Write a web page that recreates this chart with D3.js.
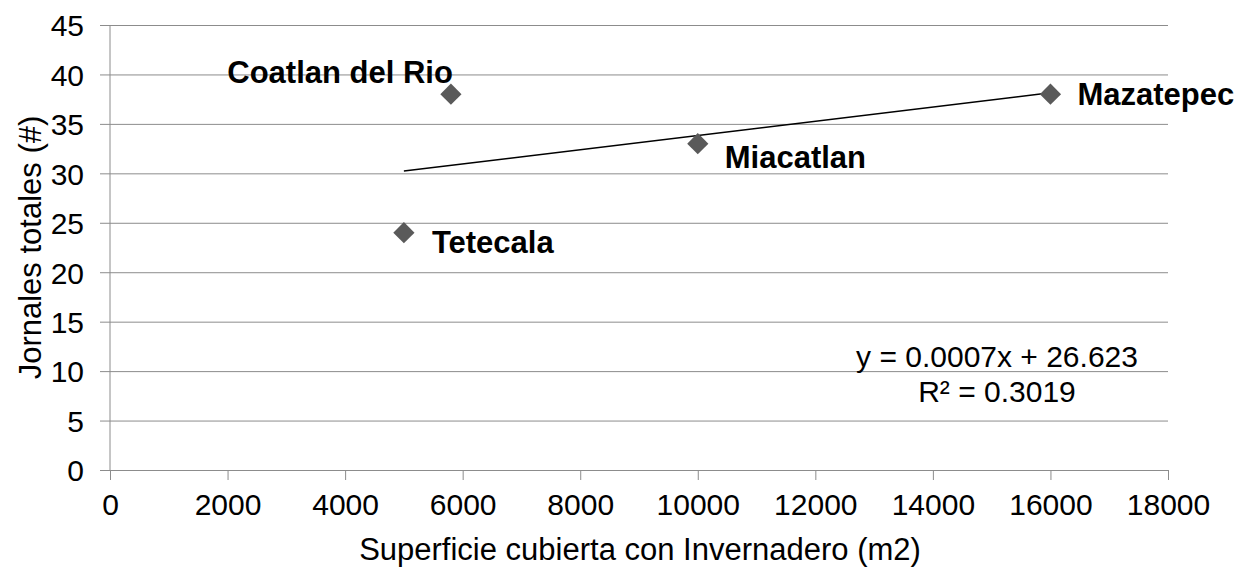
<!DOCTYPE html>
<html>
<head>
<meta charset="utf-8">
<script src="https://cdn.jsdelivr.net/npm/d3@7"></script>
<style>
body { margin: 0; background: #fff; }
text { font-family: "Liberation Sans", Arial, sans-serif; fill: #000; }
</style>
</head>
<body>
<div id="chart"></div>
<script>
// data
var municipios = ["Tetecala", "Coatlan del Rio", "Miacatlan", "Mazatepec"];
var superficie = [5000, 5800, 10000, 16000];
var jornales = [24, 38, 33, 38];
var xTicks = [0, 2000, 4000, 6000, 8000, 10000, 12000, 14000, 16000, 18000];
var yTicks = [0, 5, 10, 15, 20, 25, 30, 35, 40, 45];

var dataset = municipios.map(function(m, i) {
  return {name: m, x: superficie[i], y: jornales[i]};
});

var fs = "30px";

// set the dimensions and margins of the graph
var margin = {top: 25, right: 74, bottom: 99, left: 110},
    width = 1242 - margin.left - margin.right,
    height = 569 - margin.top - margin.bottom;

var x = d3.scaleLinear().domain([0, 18000]).range([0, width]);
var y = d3.scaleLinear().domain([0, 45]).range([height, 0]);

var svg = d3.select("#chart").append("svg")
  .attr("width", 1242)
  .attr("height", 569)
  .append("g")
  .attr("transform", "translate(" + margin.left + "," + margin.top + ")");

// horizontal gridlines + y axis
var yAxis = svg.append("g")
  .call(d3.axisLeft(y).tickValues(yTicks).tickFormat(d3.format("d"))
    .tickSize(-width).tickPadding(26).tickSizeOuter(0));
yAxis.select(".domain").remove();
yAxis.selectAll("line").attr("stroke", "#8c8c8c").attr("x1", -10);
yAxis.selectAll("text").style("font-size", fs).attr("dy", "0.36em");

svg.append("line")
  .attr("x1", 0).attr("x2", 0).attr("y1", 0).attr("y2", height)
  .attr("stroke", "#8c8c8c");

// x axis
var xAxis = svg.append("g")
  .attr("transform", "translate(0," + height + ")")
  .call(d3.axisBottom(x).tickValues(xTicks).tickFormat(d3.format("d"))
    .tickSize(10).tickPadding(14).tickSizeOuter(0));
xAxis.select(".domain").attr("stroke", "#8c8c8c");
xAxis.selectAll("line").attr("stroke", "#8c8c8c");
xAxis.selectAll("text").style("font-size", fs);

// linear trendline (least squares)
var mx = d3.mean(superficie), my = d3.mean(jornales);
var sxy = d3.sum(dataset, function(d) { return (d.x - mx) * (d.y - my); });
var sxx = d3.sum(dataset, function(d) { return (d.x - mx) * (d.x - mx); });
var slope = sxy / sxx, intercept = my - slope * mx;
var x0 = d3.min(superficie), x1 = d3.max(superficie);
svg.append("line")
  .attr("x1", x(x0)).attr("y1", y(slope * x0 + intercept))
  .attr("x2", x(x1)).attr("y2", y(slope * x1 + intercept))
  .attr("stroke", "#000").attr("stroke-width", 1.5);

// diamond markers
svg.selectAll(".pt")
  .data(dataset)
  .enter().append("path")
  .attr("class", "pt")
  .attr("d", d3.symbol().type(d3.symbolSquare).size(225))
  .attr("transform", function(d) { return "translate(" + x(d.x) + "," + y(d.y) + ") rotate(45)"; })
  .attr("fill", "#5a5a5a");

// point labels
var labelOffset = {
  "Tetecala": [28, 20, "start"],
  "Coatlan del Rio": [2, -11, "end"],
  "Miacatlan": [27, 24, "start"],
  "Mazatepec": [27, 11, "start"]
};
svg.selectAll(".lbl")
  .data(dataset)
  .enter().append("text")
  .attr("class", "lbl")
  .attr("x", function(d) { return x(d.x) + labelOffset[d.name][0]; })
  .attr("y", function(d) { return y(d.y) + labelOffset[d.name][1]; })
  .style("text-anchor", function(d) { return labelOffset[d.name][2]; })
  .style("font-size", "31px")
  .style("font-weight", "bold")
  .text(function(d) { return d.name; });

// equation
svg.append("text")
  .attr("x", 997 - margin.left).attr("y", 367 - margin.top)
  .style("text-anchor", "middle").style("font-size", fs)
  .text("y = " + slope.toFixed(4) + "x + " + intercept.toFixed(3));
svg.append("text")
  .attr("x", 997 - margin.left).attr("y", 402 - margin.top)
  .style("text-anchor", "middle").style("font-size", fs)
  .text("R² = 0.3019");

// axis titles
svg.append("text")
  .attr("x", width / 2 + 1).attr("y", height + 90)
  .style("text-anchor", "middle").style("font-size", "31px")
  .text("Superficie cubierta con Invernadero (m2)");
svg.append("text")
  .attr("transform", "rotate(-90)")
  .attr("x", 0 - (height / 2)).attr("y", 41 - margin.left)
  .style("text-anchor", "middle").style("font-size", "31px")
  .text("Jornales totales (#)");
</script>
</body>
</html>
